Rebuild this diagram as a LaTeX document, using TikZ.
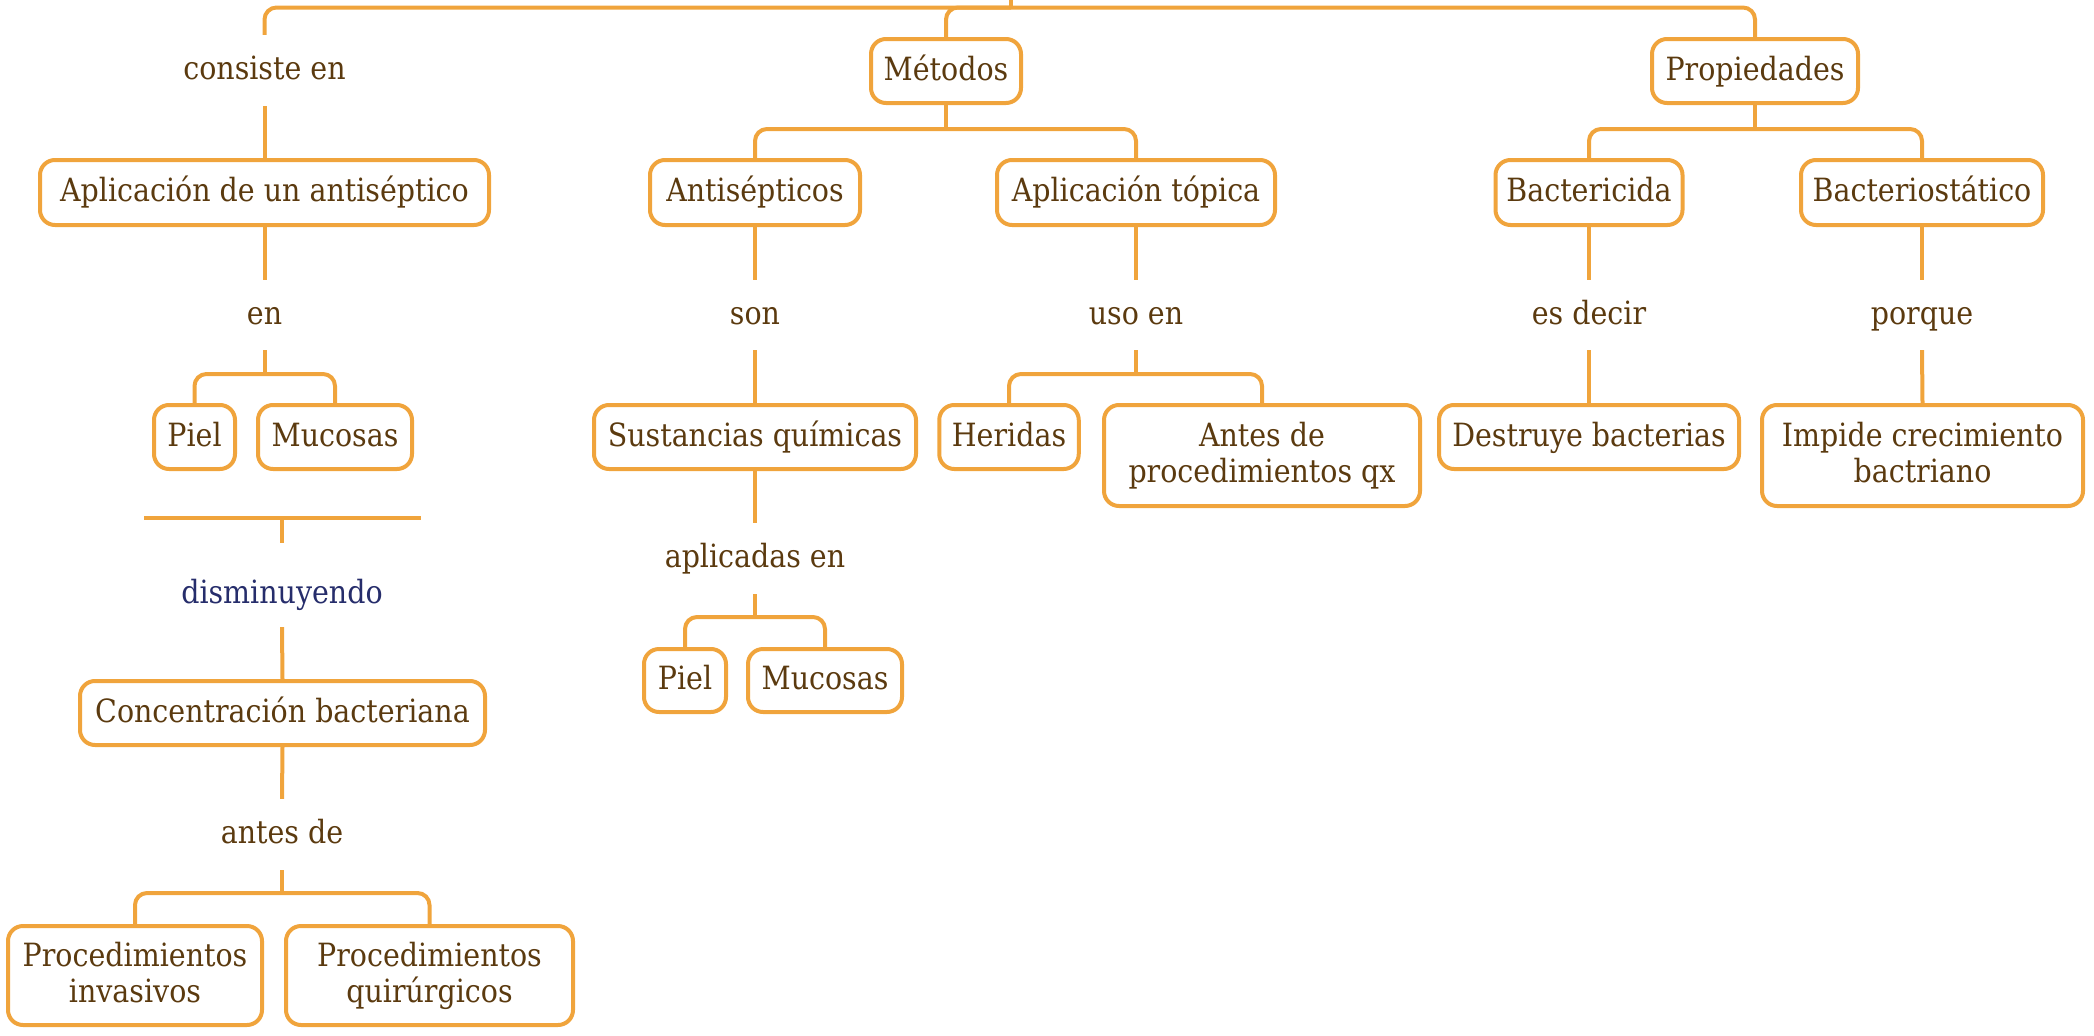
\documentclass[tikz,border=0pt]{standalone}
\usepackage{fontspec}
\setmainfont{DejaVu Serif}[FakeStretch=0.89]
\definecolor{orng}{HTML}{F0A43C}
\definecolor{brwn}{HTML}{5B3A0F}
\definecolor{navyc}{HTML}{262D6B}
\newcommand\lnstrut{\rule[-6pt]{0pt}{30pt}}
\begin{document}
\begin{tikzpicture}[x=1pt,y=-1pt,
  every node/.style={font=\fontsize{32}{36}\selectfont, text=brwn, inner sep=0pt},
  box/.style={draw=orng, line width=4pt, rounded corners=15pt, fill=white, align=center},
  one/.style={text height=24pt, text depth=6pt},
  lbl/.style={one, minimum height=71pt},
  conn/.style={draw=orng, line width=4pt, rounded corners=12pt},
]
\useasboundingbox (0,0) rectangle (2094,1036);

% top level
\coordinate (top) at (1011,0);
\coordinate (t1) at (1011,7.5);
\node[lbl] (consiste) at (264.5,70.5) {consiste en};
\node[box,one,minimum width=150pt,minimum height=64pt] (metodos) at (946,71) {Métodos};
\node[box,one,minimum width=206pt,minimum height=64pt] (prop) at (1755,71) {Propiedades};

% level 2
\node[box,one,minimum width=449pt,minimum height=65pt] (aplant) at (264.5,192.5) {Aplicación de un antiséptico};
\node[box,one,minimum width=210pt,minimum height=65pt] (antis) at (755,192.5) {Antisépticos};
\node[box,one,minimum width=278pt,minimum height=65pt] (apltop) at (1136,192.5) {Aplicación tópica};
\node[box,one,minimum width=187pt,minimum height=65pt] (bacteric) at (1589,192.5) {Bactericida};
\node[box,one,minimum width=242pt,minimum height=65pt] (bacterios) at (1922,192.5) {Bacteriostático};

% labels
\node[lbl,minimum height=70pt] (en) at (264.5,315) {en};
\node[lbl,minimum height=70pt] (son) at (755,315) {son};
\node[lbl,minimum height=70pt] (usoen) at (1136,315) {uso en};
\node[lbl,minimum height=70pt] (esdecir) at (1589,315) {es decir};
\node[lbl,minimum height=70pt] (porque) at (1922,315) {porque};

% level 3
\node[box,one,minimum width=81pt,minimum height=64pt] (piel1) at (194.5,437) {Piel};
\node[box,one,minimum width=154pt,minimum height=64pt] (muc1) at (335,437) {Mucosas};
\node[box,one,minimum width=322pt,minimum height=64pt] (sust) at (755,437) {Sustancias químicas};
\node[box,one,minimum width=139.5pt,minimum height=64pt] (heridas) at (1009,437) {Heridas};
\node[box,minimum width=316pt,minimum height=101pt] (antesp) at (1262,455.5) {\lnstrut Antes de\\\lnstrut procedimientos qx};
\node[box,one,minimum width=300pt,minimum height=64pt] (destr) at (1589,437) {Destruye bacterias};
\node[box,minimum width=321pt,minimum height=101pt] (impide) at (1922.5,455.5) {\lnstrut Impide crecimiento\\\lnstrut bactriano};

% left lower part
\coordinate (hl1) at (144,518);
\coordinate (hl2) at (421,518);
\coordinate (hs) at (282,518);
\coordinate (hse) at (282,543);
\node[lbl,minimum height=66pt,text=navyc] (dism) at (282,594) {disminuyendo};
\node[box,one,minimum width=405pt,minimum height=64pt] (conc) at (282.5,713) {Concentración bacteriana};
\node[lbl] (antesde) at (282,834.5) {antes de};
\node[box,minimum width=254pt,minimum height=99pt] (procinv) at (135,975.5) {\lnstrut Procedimientos\\\lnstrut invasivos};
\node[box,minimum width=287pt,minimum height=99pt] (procqui) at (429.5,975.5) {\lnstrut Procedimientos\\\lnstrut quirúrgicos};

% middle lower part
\node[lbl] (aplicadas) at (755,558.5) {aplicadas en};
\node[box,one,minimum width=82pt,minimum height=63pt] (piel2) at (685,680.5) {Piel};
\node[box,one,minimum width=154pt,minimum height=63pt] (muc2) at (825,680.5) {Mucosas};

% branch points
\coordinate (m1) at (946,129);
\coordinate (p1) at (1755,129);
\coordinate (b1) at (264.5,374);
\coordinate (b2) at (1136,374);
\coordinate (b3) at (282,893);
\coordinate (b4) at (755,617);

% connectors
\draw[conn] (top) -- (t1);
\draw[conn] (consiste.north) |- (t1) -| (prop.north);
\draw[conn] (metodos.north) |- (t1);
\draw[conn] (consiste.south) -- (aplant.north);
\draw[conn] (metodos.south) -- (m1);
\draw[conn] (antis.north) |- (m1) -| (apltop.north);
\draw[conn] (prop.south) -- (p1);
\draw[conn] (bacteric.north) |- (p1) -| (bacterios.north);

\draw[conn] (aplant.south) -- (en.north);
\draw[conn] (en.south) -- (b1);
\draw[conn] (piel1.north) |- (b1) -| (muc1.north);

\draw[conn] (antis.south) -- (son.north);
\draw[conn] (son.south) -- (sust.north);
\draw[conn] (sust.south) -- (aplicadas.north);
\draw[conn] (aplicadas.south) -- (b4);
\draw[conn] (piel2.north) |- (b4) -| (muc2.north);

\draw[conn] (apltop.south) -- (usoen.north);
\draw[conn] (usoen.south) -- (b2);
\draw[conn] (heridas.north) |- (b2) -| (antesp.north);

\draw[conn] (bacteric.south) -- (esdecir.north);
\draw[conn] (esdecir.south) -- (destr.north);
\draw[conn] (bacterios.south) -- (porque.north);
\draw[conn] (porque.south) -- (impide.north);

\draw[conn] (hl1) -- (hl2);
\draw[conn] (hs) -- (hse);
\draw[conn] (dism.south) -- (conc.north);
\draw[conn] (conc.south) -- (antesde.north);
\draw[conn] (antesde.south) -- (b3);
\draw[conn] (procinv.north) |- (b3) -| (procqui.north);
\end{tikzpicture}
\end{document}
